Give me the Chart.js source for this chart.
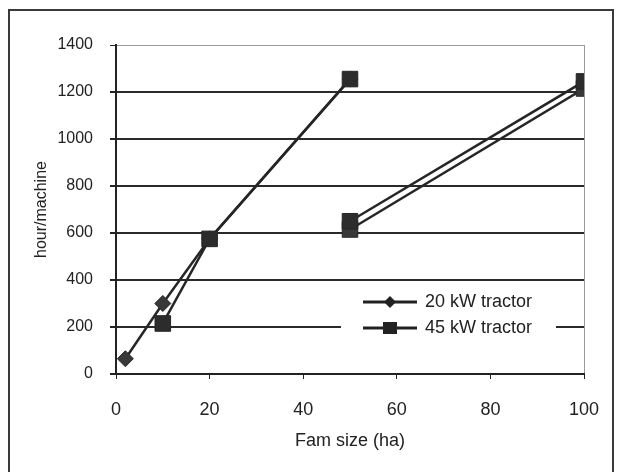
<!DOCTYPE html>
<html>
<head>
<meta charset="utf-8">
<script src="https://cdn.jsdelivr.net/npm/chart.js@4.4.0/dist/chart.umd.min.js"></script>
<style>
  body { margin: 0; background: #fff; }
  #wrap { position: relative; width: 621px; height: 472px; overflow: hidden; }
  #frame { position: absolute; left: 8px; top: 9px; width: 602px; height: 480px; border: 2px solid #3a3a3a; }
  canvas { position: absolute; left: 0; top: 0; }
</style>
</head>
<body>
<div id="wrap">
  <div id="frame"></div>
  <canvas id="farmChart" width="621" height="472"></canvas>
</div>
<script>
// farm size (ha) / hours per machine, null = break in the line
var size20 = [2, 10, 20, 50, 50, 50, 100];
var hours20 = [65, 300, 575, 1255, null, 615, 1215];
var size45 = [10, 20, 50, 50, 50, 100];
var hours45 = [215, 575, 1255, null, 650, 1245];
var seriesNames = ["20 kW tractor", "45 kW tractor"];
var xTicks = [0, 20, 40, 60, 80, 100];
var yTicks = [0, 200, 400, 600, 800, 1000, 1200, 1400];

function toPoints(xs, ys) {
    var pts = [];
    for (var i = 0; i < xs.length; i++) pts.push({ x: xs[i], y: ys[i] });
    return pts;
}

var font = "'Liberation Sans', Arial, sans-serif";
var ink = "#222";

// legend sits inside the plot, lower right, on a white patch
var insideLegend = {
    id: 'insideLegend',
    afterDatasetsDraw: function (chart) {
        var c = chart.ctx;
        var x0 = 363, x1 = 417, mx = 390, tx = 425;
        var rows = [302, 328];
        c.save();
        c.fillStyle = '#fff';
        c.fillRect(341, 289, 215, 52);
        c.strokeStyle = ink;
        c.fillStyle = ink;
        c.lineWidth = 3;
        c.font = "18px " + font;
        c.textBaseline = 'middle';
        rows.forEach(function (y, i) {
            c.beginPath();
            c.moveTo(x0, y);
            c.lineTo(x1, y);
            c.stroke();
            c.beginPath();
            if (i === 0) {
                c.moveTo(mx, y - 6); c.lineTo(mx + 6, y); c.lineTo(mx, y + 6); c.lineTo(mx - 6, y);
                c.closePath();
            } else {
                c.rect(mx - 7, y - 6, 14, 12);
            }
            c.fill();
            c.fillText(seriesNames[i], tx, y);
        });
        c.restore();
    }
};

// the right-hand pair of points shows squares in the original for both series
var style20 = size20.map(function (x) { return x < 50 ? 'rectRot' : 'rect'; });
style20[3] = 'rectRot';
var radius20 = style20.map(function (s) { return s === 'rect' ? 11 : 8; });

var ctx = document.getElementById("farmChart").getContext('2d');
var myChart = new Chart(ctx, {
    type: 'scatter',
    data: {
        datasets: [{
            label: seriesNames[0],
            data: toPoints(size20, hours20),
            showLine: true,
            spanGaps: false,
            borderColor: "#262626",
            borderWidth: 2.5,
            backgroundColor: "#383838",
            pointStyle: style20,
            pointRadius: radius20,
            pointBorderWidth: 1,
            order: 1
        }, {
            label: seriesNames[1],
            data: toPoints(size45, hours45),
            showLine: true,
            spanGaps: false,
            borderColor: "#262626",
            borderWidth: 2.5,
            backgroundColor: "#2c2c2c",
            pointStyle: 'rect',
            pointRadius: 11,
            pointBorderWidth: 1,
            order: 0
        }]
    },
    options: {
        responsive: false,
        animation: false,
        devicePixelRatio: 1,
        layout: { padding: { top: 45, right: 37, bottom: 0, left: 0 } },
        plugins: {
            legend: { display: false },
            tooltip: { enabled: false }
        },
        scales: {
            x: {
                type: 'linear',
                min: 0,
                max: 100,
                afterFit: function (scale) { scale.height = 98; },
                afterBuildTicks: function (scale) {
                    scale.ticks = xTicks.map(function (v) { return { value: v }; });
                },
                ticks: {
                    color: ink, font: { family: font, size: 18 }, padding: 20,
                    callback: function (v) { return String(v); }
                },
                grid: {
                    color: function (c) { return c.tick && c.tick.value === 100 ? '#9a9a9a' : 'rgba(0,0,0,0)'; },
                    lineWidth: 1,
                    tickColor: ink,
                    tickLength: 5
                },
                border: { display: true, color: ink, width: 2 },
                title: {
                    display: true,
                    text: "Fam size (ha)",
                    color: ink,
                    font: { family: font, size: 18 },
                    padding: { top: 0, bottom: 20 }
                }
            },
            y: {
                min: 0,
                max: 1400,
                afterFit: function (scale) { scale.width = 116; },
                afterBuildTicks: function (scale) {
                    scale.ticks = yTicks.map(function (v) { return { value: v }; });
                },
                ticks: {
                    color: ink, font: { family: font, size: 16 }, padding: 17,
                    callback: function (v) { return String(v); }
                },
                grid: {
                    color: function (c) {
                        if (!c.tick) return ink;
                        if (c.tick.value === 1400) return '#9a9a9a';
                        return '#2a2a2a';
                    },
                    lineWidth: function (c) { return c.tick && c.tick.value === 1400 ? 1 : 2; },
                    tickColor: ink,
                    tickLength: 6
                },
                border: { display: true, color: ink, width: 2 },
                title: {
                    display: true,
                    text: "hour/machine",
                    color: ink,
                    font: { family: font, size: 16 },
                    padding: { top: 32, bottom: 0 }
                }
            }
        }
    },
    plugins: [insideLegend]
});
</script>
</body>
</html>
